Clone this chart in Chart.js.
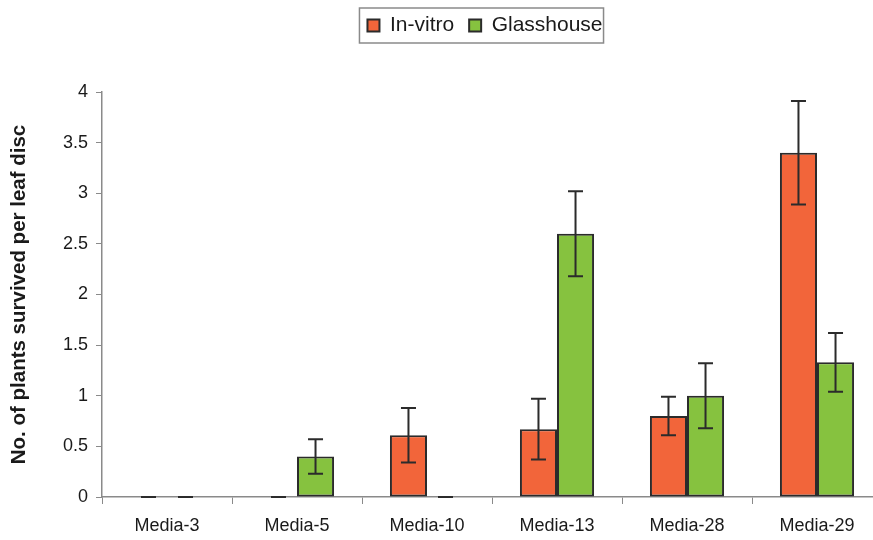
<!DOCTYPE html>
<html>
<head>
<meta charset="utf-8">
<script src="https://cdn.jsdelivr.net/npm/chart.js@4/dist/chart.umd.min.js"></script>
<style>
  html, body { margin: 0; padding: 0; background: #fff; overflow: hidden; }
  #wrap { width: 873px; height: 540px; overflow: hidden; }
</style>
</head>
<body>
<div id="wrap"><canvas id="media_chart" width="884" height="540"></canvas></div>
<script>
var media = ['Media-3', 'Media-5', 'Media-10', 'Media-13', 'Media-28', 'Media-29'];
var invitro = [0, 0, 0.61, 0.67, 0.80, 3.40];
var invitro_err = [0, 0, 0.27, 0.30, 0.19, 0.51];
var glasshouse = [0, 0.40, 0, 2.60, 1.00, 1.33];
var glasshouse_err = [0, 0.17, 0, 0.42, 0.32, 0.29];
var y_ticks = [0, 0.5, 1, 1.5, 2, 2.5, 3, 3.5, 4];

var font_family = "'Liberation Sans', Arial, sans-serif";
var errors = [invitro_err, glasshouse_err];

// error bars drawn through the y scale
var errorBars = {
  id: 'errorBars',
  afterDatasetsDraw: function(chart) {
    var ctx = chart.ctx;
    var y = chart.scales.y;
    ctx.save();
    ctx.strokeStyle = '#2b2b2b';
    ctx.lineWidth = 2;
    chart.data.datasets.forEach(function(ds, i) {
      var meta = chart.getDatasetMeta(i);
      meta.data.forEach(function(bar, j) {
        var v = ds.data[j];
        var e = errors[i][j];
        var top = y.getPixelForValue(v + e);
        var bot = y.getPixelForValue(v - e);
        var half = 7.5;
        ctx.beginPath();
        if (e > 0) {
          ctx.moveTo(bar.x, top); ctx.lineTo(bar.x, bot);
          ctx.moveTo(bar.x - half, top); ctx.lineTo(bar.x + half, top);
          ctx.moveTo(bar.x - half, bot); ctx.lineTo(bar.x + half, bot);
        } else {
          ctx.moveTo(bar.x - half, top); ctx.lineTo(bar.x + half, top);
        }
        ctx.stroke();
      });
    });
    ctx.restore();
  }
};

// push the plot down below the legend, nudge it left, and frame it
var shift = 7;
var legendBox = {
  id: 'legendBox',
  beforeInit: function(chart) {
    var fit = chart.legend.fit;
    chart.legend.fit = function() {
      fit.bind(chart.legend)();
      this.height = 92;
    };
  },
  afterUpdate: function(chart) {
    var lg = chart.legend;
    lg.left -= shift;
    lg.right -= shift;
    (lg.legendHitBoxes || []).forEach(function(h) { h.left -= shift; });
  },
  afterDraw: function(chart) {
    var boxes = chart.legend.legendHitBoxes;
    if (!boxes || !boxes.length) return;
    var first = boxes[0], last = boxes[boxes.length - 1];
    var cy = first.top + first.height / 2;
    var ctx = chart.ctx;
    ctx.save();
    ctx.strokeStyle = '#8a8a8a';
    ctx.lineWidth = 1.5;
    ctx.strokeRect(first.left - 8, cy - 17.5, last.left + last.width - first.left + 9, 35);
    ctx.restore();
  }
};

var barChart = new Chart(document.getElementById('media_chart'), {
  type: 'bar',
  data: {
    labels: media,
    datasets: [{
      label: 'In-vitro',
      data: invitro,
      backgroundColor: '#f2653a',
      borderColor: '#2b2b2b',
      borderWidth: 2,
      borderSkipped: false
    }, {
      label: 'Glasshouse',
      data: glasshouse,
      backgroundColor: '#86c23f',
      borderColor: '#2b2b2b',
      borderWidth: 2,
      borderSkipped: false
    }]
  },
  options: {
    responsive: false,
    animation: false,
    layout: { padding: { top: 0, left: 0, right: 2, bottom: 0 } },
    datasets: { bar: { barPercentage: 1, categoryPercentage: 0.57 } },
    plugins: {
      legend: {
        position: 'top',
        fullSize: false,
        labels: {
          color: '#1a1a1a',
          font: { family: font_family, size: 21 },
          boxWidth: 12,
          boxHeight: 12,
          padding: 15
        }
      },
      tooltip: { enabled: false }
    },
    scales: {
      x: {
        offset: true,
        afterFit: function(scale) { scale.height = 43; },
        grid: { offset: true, drawOnChartArea: false, drawTicks: true, tickLength: 7, color: '#8a8a8a' },
        border: { color: '#8a8a8a', width: 1.5 },
        ticks: { color: '#1a1a1a', font: { family: font_family, size: 18 }, padding: 11, maxRotation: 0 }
      },
      y: {
        min: 0,
        max: 4,
        afterBuildTicks: function(scale) {
          scale.ticks = y_ticks.map(function(v) { return { value: v }; });
        },
        afterFit: function(scale) { scale.width = 102; },
        grid: { drawOnChartArea: false, drawTicks: true, tickLength: 6, color: '#8a8a8a' },
        border: { color: '#8a8a8a', width: 1.5 },
        ticks: {
          color: '#1a1a1a',
          font: { family: font_family, size: 18 },
          padding: 8,
          callback: function(v) { return String(v); }
        },
        title: {
          display: true,
          text: 'No. of plants survived per leaf disc',
          color: '#1a1a1a',
          font: { family: font_family, size: 20.5, weight: 'bold' },
          padding: { top: 7, bottom: 6 }
        }
      }
    }
  },
  plugins: [errorBars, legendBox]
});
</script>
</body>
</html>
